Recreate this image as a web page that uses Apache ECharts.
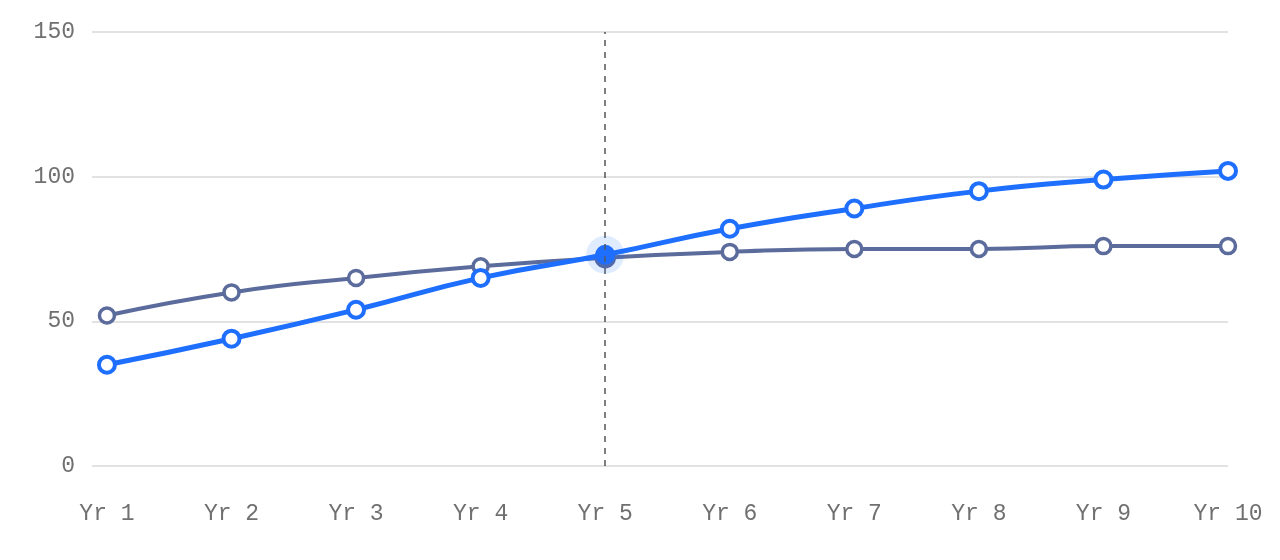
<!DOCTYPE html>
<html>
<head>
<meta charset="utf-8">
<script src="https://cdn.jsdelivr.net/npm/echarts@6/dist/echarts.min.js"></script>
<style>html,body{margin:0;padding:0;background:#fff}#c{width:1280px;height:560px}</style>
</head>
<body>
<div id="c"></div>
<script>
var categories = ['Yr 1','Yr 2','Yr 3','Yr 4','Yr 5','Yr 6','Yr 7','Yr 8','Yr 9','Yr 10'];
var seriesA = [35, 44, 54, 65, 73, 82, 89, 95, 99, 102];
var seriesB = [52, 60, 65, 69, 72, 74, 75, 75, 76, 76];
var yTicks = [0, 50, 100, 150];
var focusIndex = 4;

var FONT = 'Liberation Mono';
var BLUE = '#1f6fff';
var DARK = '#5a6b9c';

function pairs(arr, color, size) {
  return arr.map(function (v, i) {
    if (i === focusIndex) {
      return { value: [i, v], symbolSize: size, itemStyle: { color: color, borderColor: color } };
    }
    return [i, v];
  });
}

var chart = echarts.init(document.getElementById('c'), null, { renderer: 'canvas' });
chart.setOption({
  animation: false,
  grid: { left: 92, right: 52, top: 32, bottom: 94, containLabel: false },
  xAxis: {
    type: 'value',
    min: -0.12,
    max: categories.length - 1,
    axisLine: { show: false },
    axisTick: { show: false },
    splitLine: { show: false },
    axisLabel: {
      customValues: categories.map(function (c, i) { return i; }),
      formatter: function (v) { return categories[Math.round(v)]; },
      fontFamily: FONT, fontSize: 23, color: '#707070', margin: 36
    }
  },
  yAxis: {
    type: 'value',
    min: yTicks[0], max: yTicks[yTicks.length - 1], interval: 50,
    axisLine: { show: false },
    axisTick: { show: false },
    splitLine: { lineStyle: { color: '#e2e2e2', width: 2 } },
    axisLabel: { fontFamily: FONT, fontSize: 23, color: '#707070', margin: 17 }
  },
  series: [
    {
      type: 'line', name: 'B', smooth: true, z: 2,
      data: pairs(seriesB, DARK, 18),
      symbol: 'circle', symbolSize: 15,
      lineStyle: { color: DARK, width: 4 },
      itemStyle: { color: '#fff', borderColor: DARK, borderWidth: 3.5 },
      markLine: {
        silent: true, symbol: ['none', 'none'],
        label: { show: false },
        lineStyle: { color: '#555', type: [6, 6], width: 1.5 },
        data: [{ xAxis: focusIndex }]
      }
    },
    {
      type: 'line', name: 'A', smooth: true, z: 3,
      data: pairs(seriesA, BLUE, 16),
      symbol: 'circle', symbolSize: 16,
      lineStyle: { color: BLUE, width: 5 },
      itemStyle: { color: '#fff', borderColor: BLUE, borderWidth: 4 },
      markPoint: {
        silent: true, symbol: 'circle', symbolSize: 38,
        itemStyle: { color: 'rgba(31,111,255,0.14)' },
        label: { show: false },
        data: [{ coord: [focusIndex, seriesA[focusIndex]] }]
      }
    }
  ]
});
</script>
</body>
</html>
